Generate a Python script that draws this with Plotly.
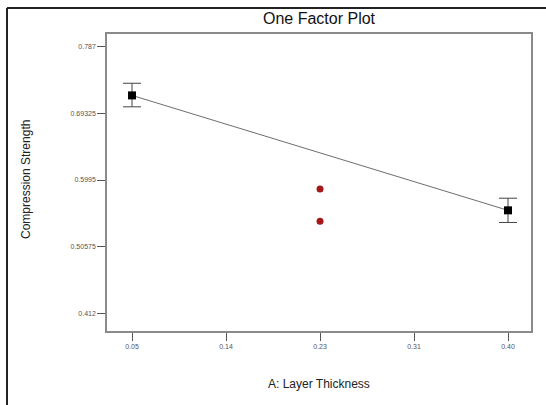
import plotly.graph_objects as go

# Data
factor_levels = [0.05, 0.40]
predicted = [0.718, 0.557]
err_plus = [0.017, 0.017]
err_minus = [0.016, 0.017]
design_x = [0.225, 0.225]
design_y = [0.5868, 0.5417]
x_tickvals = [0.05, 0.1375, 0.225, 0.3125, 0.40]
x_ticktext = ["0.05", "0.14", "0.23", "0.31", "0.40"]
y_tickvals = [0.412, 0.50575, 0.5995, 0.69325, 0.787]
y_ticktext = ["0.412", "0.50575", "0.5995", "0.69325", "0.787"]

W, H = 546, 405
L, R, T, B = 107, 531, 34, 331
pw, ph = R - L, B - T

fig = go.Figure()
fig.add_trace(go.Scatter(
    x=factor_levels, y=predicted, mode="lines",
    line=dict(color="#6e6e6e", width=1), showlegend=False, hoverinfo="skip"))
fig.add_trace(go.Scatter(
    x=factor_levels, y=predicted, mode="markers",
    marker=dict(symbol="square", size=8, color="black"),
    error_y=dict(type="data", symmetric=False, array=err_plus, arrayminus=err_minus,
                 color="#444444", thickness=1, width=9),
    showlegend=False))
fig.add_trace(go.Scatter(
    x=design_x, y=design_y, mode="markers",
    marker=dict(symbol="circle", size=7, color="#a31818"),
    showlegend=False))

axis_common = dict(showgrid=False, zeroline=False, showline=True, linecolor="#8a8a8a",
                   linewidth=1.5, mirror=True, ticks="outside", tickcolor="#555555",
                   ticklen=8, tickwidth=1,
                   tickfont=dict(family="Arial, Liberation Sans", size=7, color="#555555"))

fig.update_layout(
    width=W, height=H,
    margin=dict(l=L, r=W - R, t=T, b=H - B),
    paper_bgcolor="white", plot_bgcolor="white",
    xaxis=dict(range=[0.0267, 0.4214], tickvals=x_tickvals, ticktext=x_ticktext, **axis_common),
    yaxis=dict(range=[0.388, 0.804], tickvals=y_tickvals, ticktext=y_ticktext, **axis_common),
    annotations=[
        dict(text="One Factor Plot", xref="paper", yref="paper", x=0.5,
             y=1 + (T - 18) / ph, showarrow=False, yanchor="middle",
             font=dict(family="Arial, Liberation Sans", size=16, color="#111111")),
        dict(text="Compression Strength", xref="paper", yref="paper",
             x=(26 - L) / pw, y=(B - 180) / ph, textangle=-90, showarrow=False,
             xanchor="center", yanchor="middle",
             font=dict(family="Arial, Liberation Sans", size=12, color="#222222")),
        dict(text="A: Layer Thickness", xref="paper", yref="paper",
             x=0.5, y=-(384 - B) / ph, showarrow=False, yanchor="middle",
             font=dict(family="Arial, Liberation Sans", size=12, color="#222222")),
    ],
    shapes=[
        dict(type="line", xref="paper", yref="paper", x0=(7 - L) / pw, x1=(W - L) / pw,
             y0=1 + (T - 8) / ph, y1=1 + (T - 8) / ph, line=dict(color="#222222", width=2)),
        dict(type="line", xref="paper", yref="paper", x0=(7 - L) / pw, x1=(7 - L) / pw,
             y0=1 + (T - 8) / ph, y1=-(H - B + 5) / ph, line=dict(color="#222222", width=2)),
    ],
)

fig.write_html("out.html")
